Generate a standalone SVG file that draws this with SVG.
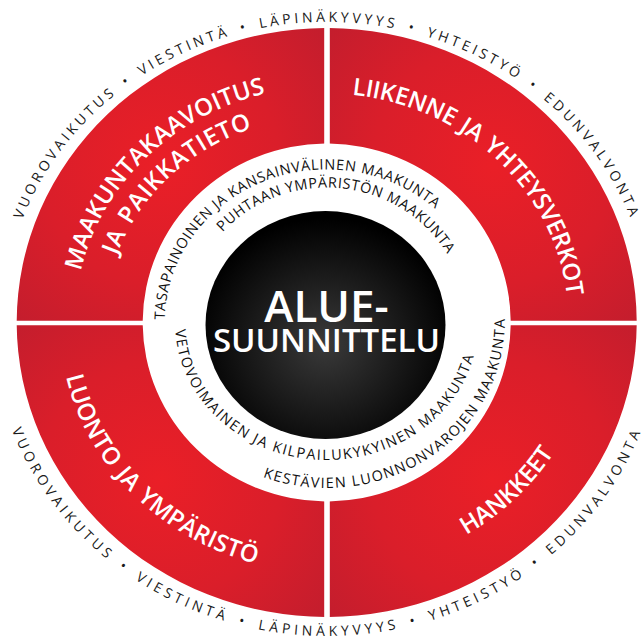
<svg xmlns="http://www.w3.org/2000/svg" width="641" height="642" viewBox="0 0 641 642">
<style>
.title{font-family:"Open Sans","Liberation Sans",sans-serif;font-weight:600;font-size:24px;fill:#fff}
.inner{font-family:"Open Sans","Liberation Sans",sans-serif;font-size:14.5px;fill:#111}
.outer{font-family:"Open Sans","Liberation Sans",sans-serif;font-size:14px;fill:#1a1a1a}
.ctr{font-family:"Open Sans","Liberation Sans",sans-serif;font-weight:600;fill:#fff;text-anchor:middle}
</style>
<defs>
<path id="ring" fill-rule="evenodd" d="M16.7,322.5 A310,294.5 0 1 1 636.7,322.5 A310,294.5 0 1 1 16.7,322.5 Z M142.7,322.5 A184,179 0 1 0 510.7,322.5 A184,179 0 1 0 142.7,322.5 Z"/>
<clipPath id="cTL"><rect x="0" y="0" width="324.2" height="320.8"/></clipPath>
<clipPath id="cTR"><rect x="329.8" y="0" width="312" height="320.8"/></clipPath>
<clipPath id="cBL"><rect x="0" y="325.2" width="324.2" height="317"/></clipPath>
<clipPath id="cBR"><rect x="329.8" y="325.2" width="312" height="317"/></clipPath>
<radialGradient id="gTL" gradientUnits="userSpaceOnUse" cx="160" cy="165" r="240"><stop offset="0" stop-color="#ea1f27"/><stop offset="0.5" stop-color="#da1e2a"/><stop offset="1" stop-color="#bd1d2e"/></radialGradient>
<radialGradient id="gTR" gradientUnits="userSpaceOnUse" cx="493" cy="165" r="240"><stop offset="0" stop-color="#ea1f27"/><stop offset="0.5" stop-color="#da1e2a"/><stop offset="1" stop-color="#bd1d2e"/></radialGradient>
<radialGradient id="gBL" gradientUnits="userSpaceOnUse" cx="160" cy="480" r="240"><stop offset="0" stop-color="#ea1f27"/><stop offset="0.5" stop-color="#da1e2a"/><stop offset="1" stop-color="#bd1d2e"/></radialGradient>
<radialGradient id="gBR" gradientUnits="userSpaceOnUse" cx="493" cy="480" r="240"><stop offset="0" stop-color="#ea1f27"/><stop offset="0.5" stop-color="#da1e2a"/><stop offset="1" stop-color="#bd1d2e"/></radialGradient>
<radialGradient id="gC" cx="50%" cy="58%" r="55%"><stop offset="0" stop-color="#3a3a3a"/><stop offset="0.55" stop-color="#1a1a1a"/><stop offset="1" stop-color="#000"/></radialGradient>
<path id="pOutTop" d="M22.2,219.7 A324,300.5 0 0 1 631.2,219.7"/>
<path id="pOutBot" d="M11.9,429.7 A335,313.5 0 0 0 641.5,429.7"/>
<path id="pIn1" d="M164.7,319.8 A162,153 0 0 1 437.2,210.6"/>
<path id="pIn2" d="M222.7,232.2 A140,135 0 0 1 449.1,257.1"/>
<path id="pIn3" d="M262.9,477 A178,165.5 0 0 0 504.6,316.7"/>
<path id="pIn4" d="M175.2,329.7 A151.7,137.5 0 0 0 473.9,355.8"/>
<path id="pT1" d="M80.7,271.4 A252,236 0 0 1 265.7,93.5"/>
<path id="pT2" d="M116.8,255.4 A222,206 0 0 1 250.8,128.9"/>
<path id="pT3" d="M352,94.8 A242,229 0 0 1 566.9,294.6"/>
<path id="pT4" d="M66,376.6 A267,250 0 0 0 257.6,564"/>
<path id="pT5" d="M466.2,534.8 A267,249 0 0 0 555.6,450.7"/>
</defs>

<g id="q-maakuntakaavoitus">
<use href="#ring" fill="url(#gTL)" clip-path="url(#cTL)"/>
<text class="title"><textPath href="#pT1" textLength="270" lengthAdjust="spacing">MAAKUNTAKAAVOITUS</textPath></text>
<text class="title"><textPath href="#pT2" textLength="192" lengthAdjust="spacing">JA&#8196;PAIKKATIETO</textPath></text>
</g>
<g id="q-liikenne">
<use href="#ring" fill="url(#gTR)" clip-path="url(#cTR)"/>
<text class="title"><textPath href="#pT3" textLength="318" lengthAdjust="spacing">LIIKENNE&#8196;JA&#8196;YHTEYSVERKOT</textPath></text>
</g>
<g id="q-luonto">
<use href="#ring" fill="url(#gBL)" clip-path="url(#cBL)"/>
<text class="title"><textPath href="#pT4" textLength="280" lengthAdjust="spacing">LUONTO&#8196;JA&#8196;YMPÄRISTÖ</textPath></text>
</g>
<g id="q-hankkeet">
<use href="#ring" fill="url(#gBR)" clip-path="url(#cBR)"/>
<text class="title"><textPath href="#pT5" textLength="121" lengthAdjust="spacing">HANKKEET</textPath></text>
</g>

<g id="inner-ring">
<text class="inner"><textPath href="#pIn1" textLength="362" lengthAdjust="spacing">TASAPAINOINEN JA KANSAINVÄLINEN MAAKUNTA</textPath></text>
<text class="inner"><textPath href="#pIn2" textLength="260" lengthAdjust="spacing">PUHTAAN YMPÄRISTÖN MAAKUNTA</textPath></text>
<text class="inner"><textPath href="#pIn3" textLength="338" lengthAdjust="spacing">KESTÄVIEN LUONNONVAROJEN MAAKUNTA</textPath></text>
<text class="inner"><textPath href="#pIn4" textLength="413" lengthAdjust="spacing">VETOVOIMAINEN JA KILPAILUKYKYINEN MAAKUNTA</textPath></text>
</g>

<g id="center">
<ellipse cx="325.5" cy="325" rx="120" ry="114" fill="url(#gC)"/>
<text class="ctr" x="326.5" y="322" font-size="44">ALUE-</text>
<text class="ctr" x="326.5" y="352" font-size="33">SUUNNITTELU</text>
</g>

<g id="outer-ring">
<text class="outer"><textPath href="#pOutTop" textLength="768" lengthAdjust="spacing">VUOROVAIKUTUS&#8194;•&#8194;VIESTINTÄ&#8194;•&#8194;LÄPINÄKYVYYS&#8194;•&#8194;YHTEISTYÖ&#8194;•&#8194;EDUNVALVONTA</textPath></text>
<text class="outer"><textPath href="#pOutBot" textLength="796" lengthAdjust="spacing">VUOROVAIKUTUS&#8194;•&#8194;VIESTINTÄ&#8194;•&#8194;LÄPINÄKYVYYS&#8194;•&#8194;YHTEISTYÖ&#8194;•&#8194;EDUNVALVONTA</textPath></text>
</g>
</svg>
